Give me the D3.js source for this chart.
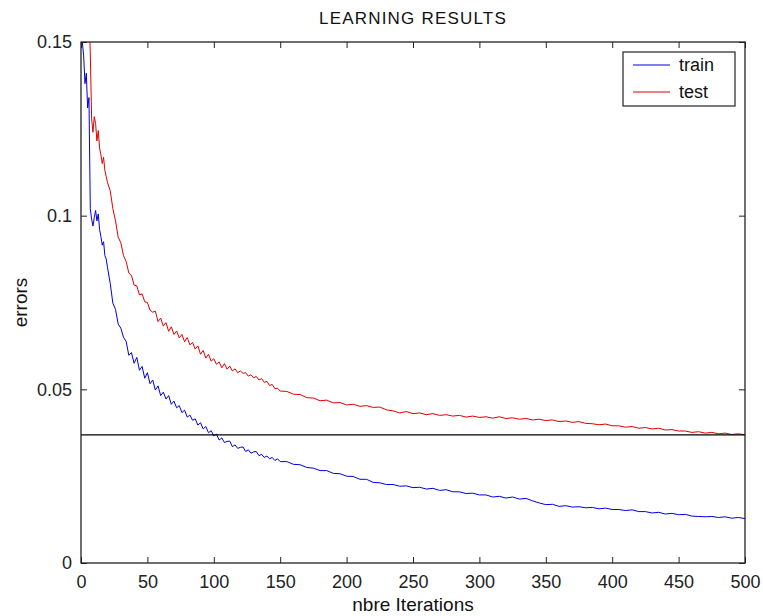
<!DOCTYPE html>
<html>
<head>
<meta charset="utf-8">
<script src="https://cdn.jsdelivr.net/npm/d3@7"></script>
<style>
  html, body { margin: 0; padding: 0; background: #fff; }
  svg { display: block; font-family: "Liberation Sans", Arial, sans-serif; }
</style>
</head>
<body>
<svg id="chart" width="763" height="616"></svg>
<script>
// Iteration numbers at which the errors were recorded
const iterations = [
  0,1,2,3,4,5,6,7,8,9,10,11,12,13,14,15,16,17,18,19,20,
  22,24,26,28,30,32,34,36,38,40,42,44,46,48,50,52,54,56,58,60,
  62,64,66,68,70,72,74,76,78,80,82,84,86,88,90,92,94,96,98,100,
  102,104,106,108,110,112,114,116,118,120,122,124,126,128,130,
  132,134,136,138,140,142,144,146,148,150,
  155,160,165,170,175,180,185,190,195,200,205,210,215,220,225,
  230,235,240,245,250,255,260,265,270,275,280,285,290,295,300,
  305,310,315,320,325,330,335,340,345,350,355,360,365,370,375,
  380,385,390,395,400,405,410,415,420,425,430,435,440,445,450,
  455,460,465,470,475,480,485,490,495,500
];

// Training error
const trainErrors = [
  0.168,0.150,0.146,0.138,0.141,0.131,0.134,0.102,0.099,0.097,0.0995,0.1015,0.0985,0.1005,0.096,0.094,0.0915,0.0925,0.0885,0.0875,0.085,
  0.0805,0.0748,0.0730,0.0688,0.0676,0.0650,0.0638,0.0598,0.0606,0.0575,0.0592,0.0555,0.0566,0.0532,0.0548,0.0516,0.0527,0.0498,0.0510,0.0482,
  0.0492,0.0472,0.0482,0.0457,0.0466,0.0447,0.0453,0.0433,0.0440,0.0420,0.0426,0.0411,0.0415,0.0397,0.0404,0.0386,0.0393,0.0375,0.0381,0.0366,
  0.0371,0.0354,0.0360,0.0347,0.0350,0.0351,0.0335,0.0340,0.0330,0.0333,0.0334,0.0321,0.0326,0.0316,0.0320,
  0.0321,0.0309,0.0313,0.0304,0.0308,0.0300,0.0304,0.0295,0.0300,0.0292,
  0.0292,0.0284,0.0283,0.0275,0.0273,0.0266,0.0266,0.0258,0.0257,0.0250,0.0249,0.0241,0.0241,0.0232,0.0231,
  0.0226,0.0226,0.0221,0.0222,0.0217,0.0218,0.0213,0.0215,0.0209,0.0211,0.0205,0.0205,0.0200,0.0201,0.0196,
  0.0196,0.0190,0.0192,0.0187,0.0190,0.0184,0.0186,0.0179,0.0173,0.0168,0.0169,0.0163,0.0165,0.0161,0.0162,
  0.0159,0.0160,0.0156,0.0158,0.0154,0.0154,0.0151,0.0153,0.0148,0.0148,0.0144,0.0146,0.0141,0.0143,0.0139,
  0.0140,0.0135,0.0134,0.0133,0.0134,0.0131,0.0133,0.0129,0.0131,0.0128
];

// Test error
const testErrors = [
  0.205,0.196,0.188,0.180,0.172,0.166,0.158,0.147,0.128,0.124,0.1285,0.1265,0.1215,0.1245,0.1195,0.1175,0.1150,0.1168,0.1130,0.1112,0.1095,
  0.1072,0.1020,0.0985,0.0938,0.0922,0.0885,0.0868,0.0835,0.0828,0.0800,0.0798,0.0772,0.0775,0.0752,0.0750,0.0728,0.0722,0.0725,0.0695,0.0705,
  0.0682,0.0692,0.0667,0.0680,0.0658,0.0668,0.0648,0.0658,0.0637,0.0649,0.0628,0.0635,0.0616,0.0625,0.0601,0.0612,0.0590,0.0601,0.0581,0.0588,
  0.0572,0.0579,0.0562,0.0574,0.0558,0.0567,0.0553,0.0559,0.0548,0.0553,0.0546,0.0548,0.0538,0.0542,0.0533,
  0.0537,0.0527,0.0531,0.0520,0.0523,0.0511,0.0514,0.0502,0.0503,0.0495,
  0.0494,0.0486,0.0485,0.0476,0.0475,0.0467,0.0469,0.0461,0.0462,0.0455,0.0457,0.0451,0.0453,0.0448,0.0449,
  0.0441,0.0438,0.0432,0.0436,0.0430,0.0432,0.0427,0.0430,0.0425,0.0427,0.0423,0.0425,0.0420,0.0423,0.0419,
  0.0421,0.0417,0.0421,0.0416,0.0418,0.0414,0.0416,0.0412,0.0414,0.0410,0.0412,0.0407,0.0409,0.0405,0.0407,
  0.0402,0.0401,0.0398,0.0400,0.0395,0.0395,0.0391,0.0393,0.0388,0.0390,0.0386,0.0388,0.0383,0.0384,0.0380,
  0.0380,0.0376,0.0378,0.0374,0.0376,0.0372,0.0374,0.0370,0.0372,0.0369
];

// Horizontal reference level (final test error)
const referenceLevel = 0.0369;

const xTicks = [0, 50, 100, 150, 200, 250, 300, 350, 400, 450, 500];
const yTicks = [0, 0.05, 0.1, 0.15];
const yTickLabels = ["0", "0.05", "0.1", "0.15"];
const seriesNames = ["train", "test"];
const seriesColors = ["#0000e0", "#e00000"];

const margin = { left: 81, top: 42, right: 763 - 745, bottom: 616 - 563 };
const width = 763 - margin.left - margin.right;
const height = 616 - margin.top - margin.bottom;

const svg = d3.select("#chart");
const g = svg.append("g").attr("transform", `translate(${margin.left},${margin.top})`);

const x = d3.scaleLinear().domain([0, 500]).range([0, width]);
const y = d3.scaleLinear().domain([0, 0.15]).range([height, 0]);

g.append("clipPath").attr("id", "plot-clip")
  .append("rect").attr("width", width).attr("height", height);

// Curves
const line = d3.line().x((d, i) => x(iterations[i])).y(d => y(d));
const plot = g.append("g").attr("clip-path", "url(#plot-clip)");
[trainErrors, testErrors].forEach((series, k) => {
  plot.append("path")
    .datum(series)
    .attr("fill", "none")
    .attr("stroke", seriesColors[k])
    .attr("stroke-width", 1)
    .attr("d", line);
});

// Reference line
plot.append("line")
  .attr("x1", x(0)).attr("x2", x(500))
  .attr("y1", y(referenceLevel)).attr("y2", y(referenceLevel))
  .attr("stroke", "#000").attr("stroke-width", 1.3);

// Axes with inward ticks on all four sides
const axisStyle = sel => {
  sel.select(".domain").remove();
  sel.selectAll("line").attr("stroke", "#222");
  sel.selectAll("text").attr("font-size", "18px").attr("fill", "#222")
    .attr("font-family", "'Liberation Sans', Arial, sans-serif");
};

g.append("g").attr("transform", `translate(0,${height})`)
  .call(d3.axisBottom(x).tickValues(xTicks).tickSizeInner(-6).tickSizeOuter(0).tickPadding(12).tickFormat(d3.format("d")))
  .call(axisStyle);
g.append("g")
  .call(d3.axisTop(x).tickValues(xTicks).tickSizeInner(-6).tickSizeOuter(0).tickFormat(""))
  .call(axisStyle);
g.append("g")
  .call(d3.axisLeft(y).tickValues(yTicks).tickSizeInner(-6).tickSizeOuter(0).tickPadding(9)
    .tickFormat((d, i) => yTickLabels[i]))
  .call(axisStyle);
g.append("g").attr("transform", `translate(${width},0)`)
  .call(d3.axisRight(y).tickValues(yTicks).tickSizeInner(-6).tickSizeOuter(0).tickFormat(""))
  .call(axisStyle);

// Frame
g.append("rect").attr("width", width).attr("height", height)
  .attr("fill", "none").attr("stroke", "#222").attr("stroke-width", 1.3);

// Titles
svg.append("text").attr("x", margin.left + width / 2).attr("y", 24)
  .attr("text-anchor", "middle").attr("font-size", "17px").attr("letter-spacing", "1.2px").attr("fill", "#111")
  .text("LEARNING RESULTS");
svg.append("text").attr("x", margin.left + width / 2).attr("y", 611)
  .attr("text-anchor", "middle").attr("font-size", "19px").attr("fill", "#111")
  .text("nbre Iterations");
svg.append("text")
  .attr("transform", `translate(27,${margin.top + height / 2}) rotate(-90)`)
  .attr("text-anchor", "middle").attr("font-size", "19px").attr("fill", "#111")
  .text("errors");

// Legend
const legend = svg.append("g").attr("transform", "translate(623,52)");
legend.append("rect").attr("width", 112).attr("height", 54)
  .attr("fill", "#fff").attr("stroke", "#222").attr("stroke-width", 1.2);
seriesNames.forEach((name, k) => {
  const ly = 13 + k * 27;
  legend.append("line").attr("x1", 10).attr("x2", 47).attr("y1", ly).attr("y2", ly)
    .attr("stroke", seriesColors[k]).attr("stroke-width", 1);
  legend.append("text").attr("x", 56).attr("y", ly + 6)
    .attr("font-size", "18px").attr("fill", "#111").text(name);
});
</script>
</body>
</html>
